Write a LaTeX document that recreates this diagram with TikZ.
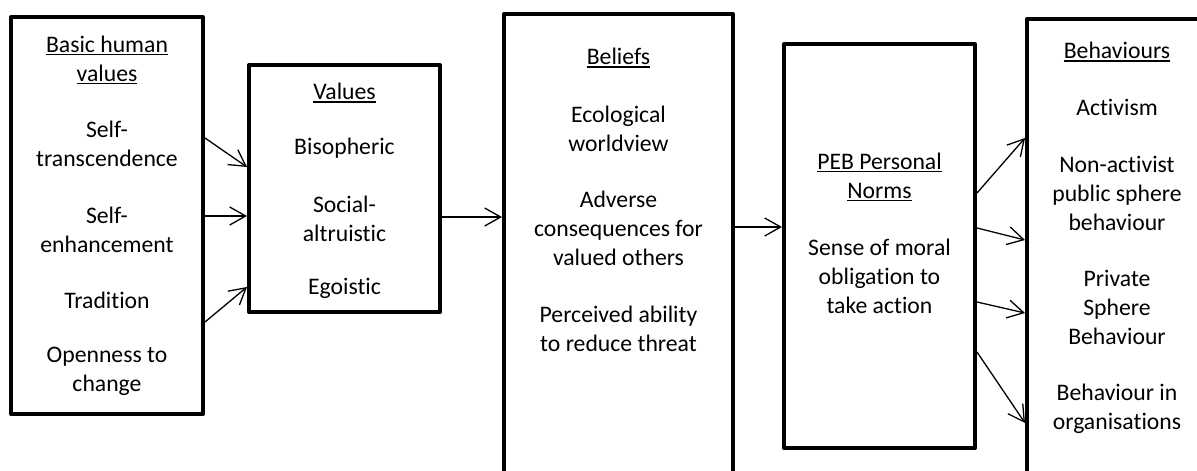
\documentclass[tikz,border=0pt]{standalone}
\usepackage{fontspec}
\setmainfont{Carlito}[Ligatures=NoCommon]
\usetikzlibrary{arrows.meta}
% underlined heading line
\newcommand\titleline[1]{\setbox0\hbox{#1}\rlap{\rule[-2.8pt]{\wd0}{1.5pt}}\box0}
\begin{document}
\begin{tikzpicture}[x=1pt,y=-1pt,
  stagebox/.style={draw, line width=4pt, line join=round, inner sep=0pt},
  lbl/.style={align=center, inner sep=0pt, font=\fontsize{23.7}{29}\selectfont},
  arr/.style={line width=1.3pt, -{Straight Barb[length=16pt,width=18pt,line width=1.3pt]}}]
\clip (0,0) rectangle (1197,471);
\fill[white] (0,0) rectangle (1197,471);

% stage boxes
\node[stagebox, minimum width=192pt, minimum height=397pt] (b1) at (107,215.5) {};
\node[stagebox, minimum width=191pt, minimum height=247pt] (b2) at (344.5,188.5) {};
\node[stagebox, minimum width=229pt, minimum height=476pt] (b3) at (618.5,252) {};
\node[stagebox, minimum width=191pt, minimum height=404pt] (b4) at (879.5,246) {};
\node[stagebox, minimum width=180pt, minimum height=471pt] (b5) at (1117,254.5) {};

% basic human values
\node[lbl] (t1) at (107,60) {\titleline{Basic human}\\\titleline{values}};
\node[lbl] (v1) at (107,143.5) {Self-\\transcendence};
\node[lbl] (v2) at (107,230) {Self-\\enhancement};
\node[lbl] (v3) at (107,300) {Tradition};
\node[lbl] (v4) at (107,371) {Openness to\\change};

% values
\node[lbl] (t2) at (344.5,93) {\titleline{Values}};
\node[lbl] (w1) at (344.5,148) {Bisopheric};
\node[lbl] (w2) at (344.5,219) {Social-\\altruistic};
\node[lbl] (w3) at (344.5,288) {Egoistic};

% beliefs
\node[lbl] (t3) at (618.5,58) {\titleline{Beliefs}};
\node[lbl] (c1) at (618.5,129) {Ecological\\worldview};
\node[lbl] (c2) at (618.5,228.5) {Adverse\\consequences for\\valued others};
\node[lbl] (c3) at (618.5,329) {Perceived ability\\to reduce threat};

% personal norms
\node[lbl] (t4) at (879.5,177) {\titleline{PEB Personal}\\\titleline{Norms}};
\node[lbl] (n1) at (879.5,276) {Sense of moral\\obligation to\\take action};

% behaviours
\node[lbl] (t5) at (1117,52) {\titleline{Behaviours}};
\node[lbl] (h1) at (1117,107) {Activism};
\node[lbl] (h2) at (1117,193) {Non-activist\\public sphere\\behaviour};
\node[lbl] (h3) at (1117,307) {Private\\Sphere\\Behaviour};
\node[lbl] (h4) at (1117,409) {Behaviour in\\organisations};

% connectors
\draw[arr] (b1.east |- 0,138) -- (b2.west |- 0,167);
\draw[arr] (b1.east |- 0,216) -- (b2.west |- 0,216);
\draw[arr] (b1.east |- 0,322) -- (b2.west |- 0,287);
\draw[arr] (b2.east |- 0,217) -- (b3.west |- 0,217);
\draw[arr] (b3.east |- 0,227) -- (b4.west |- 0,227);
\draw[arr] (b4.east |- 0,193) -- (b5.west |- 0,138);
\draw[arr] (b4.east |- 0,228) -- (b5.west |- 0,240);
\draw[arr] (b4.east |- 0,302) -- (b5.west |- 0,313);
\draw[arr] (b4.east |- 0,352) -- (b5.west |- 0,423);
\end{tikzpicture}
\end{document}
